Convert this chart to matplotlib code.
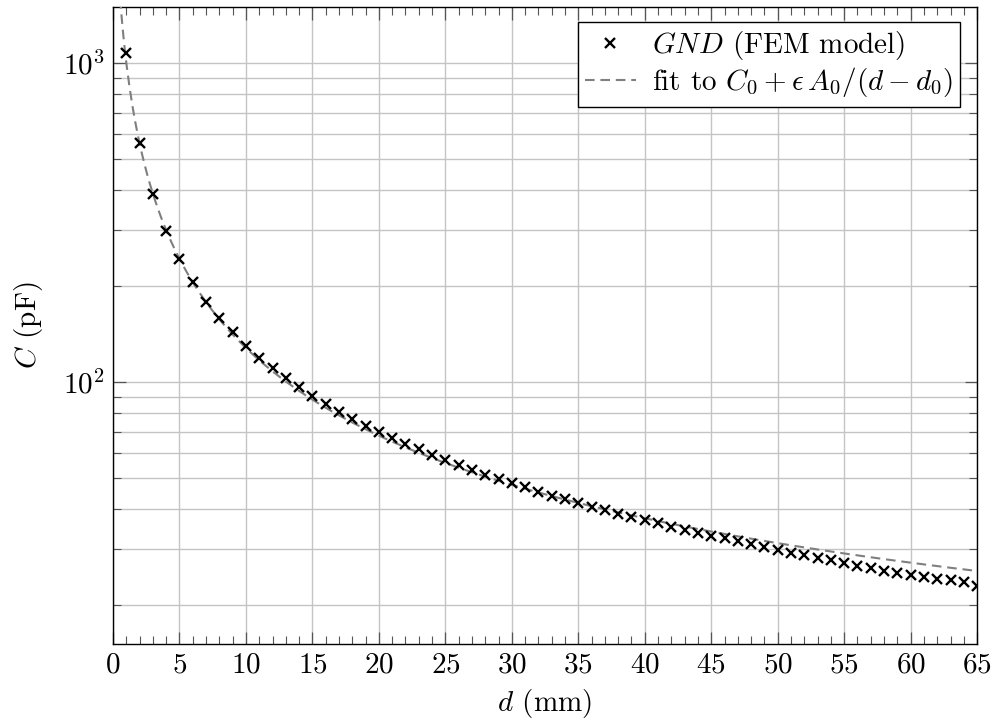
import matplotlib
matplotlib.use("Agg")
import matplotlib.pyplot as plt
import numpy as np
from matplotlib.ticker import LogLocator, MultipleLocator, NullFormatter

# Data ***************************************************************
d_mm = list(range(1, 66))
c_pf = [1075, 561, 388, 297, 243, 206, 178, 159, 143.6, 129.7,
        118.9, 110.6, 103, 96.4, 90.4, 85.3, 80.5, 76.6, 72.8, 69.7,
        66.7, 63.9, 61.7, 59.1, 56.9, 54.9, 53.0, 51.1, 49.6, 48.2,
        46.9, 45.2, 43.9, 43.0, 41.8, 40.6, 39.7, 38.6, 37.7, 36.9,
        36.1, 35.1, 34.3, 33.6, 32.9, 32.4, 31.8, 31.1, 30.4, 29.7,
        29.1, 28.7, 28.1, 27.7, 27.1, 26.5, 26.1, 25.6, 25.2, 24.8,
        24.5, 24.1, 23.9, 23.6, 22.9]

# fit parameters (C0 + eps*A0/(d - d0))
fit_c0 = 6.5
fit_k = 1245.0      # eps * A0
fit_d0 = -0.25

# Style ***************************************************************
plt.rcParams['font.family'] = 'serif'
plt.rcParams['font.serif'] = ['cmr10', 'DejaVu Serif']
plt.rcParams['mathtext.fontset'] = 'cm'
plt.rcParams['axes.formatter.use_mathtext'] = True

fs = 21

fig = plt.figure(figsize=(9.95, 7.25), dpi=100)
ax = fig.add_axes([0.1136, 0.1117, 0.8684, 0.8786])

d_fit = np.linspace(0.5, 65, 600)
c_fit = fit_c0 + fit_k / (d_fit - fit_d0)

ax.plot(d_fit, c_fit, color='#7f7f7f', lw=1.5, linestyle=(0, (4.6, 2.8)),
        label=r'fit to $C_0 + \epsilon\, A_0/(d - d_0)$', zorder=3)
ax.plot(d_mm, c_pf, linestyle='none', marker='x', color='black',
        markersize=6.5, mew=1.7, label=r'$GND$ (FEM model)', zorder=4)

ax.set_yscale('log')
ax.set_xlim(0, 65)
ax.set_ylim(15.1, 1500)

ax.xaxis.set_major_locator(MultipleLocator(5))
ax.xaxis.set_minor_locator(MultipleLocator(1))
ax.yaxis.set_major_locator(LogLocator(base=10))
ax.yaxis.set_minor_locator(LogLocator(base=10, subs=np.arange(2, 10)))
ax.yaxis.set_minor_formatter(NullFormatter())

ax.grid(True, which='major', color='#c4c4c4', lw=1.0)
ax.grid(True, which='minor', axis='y', color='#c4c4c4', lw=1.0)
ax.set_axisbelow(True)

ax.tick_params(which='both', direction='in', top=True, right=True,
               color='#555555', labelsize=fs)
ax.tick_params(which='major', length=9, width=0.9)
ax.tick_params(which='minor', length=6, width=0.8)
ax.tick_params(axis='x', pad=6)
ax.tick_params(axis='y', pad=6)
for s in ax.spines.values():
    s.set_linewidth(1.0)

ax.set_xlabel(r'$d$ (mm)', fontsize=fs, labelpad=6)
ax.set_ylabel(r'$C$ (pF)', fontsize=fs, labelpad=13)

h, l = ax.get_legend_handles_labels()
leg = ax.legend(h[::-1], l[::-1], loc='upper right', bbox_to_anchor=(0.9805, 0.977),
                fontsize=fs, frameon=True, fancybox=False, framealpha=1,
                edgecolor='black', handlelength=1.75, handletextpad=0.55,
                borderpad=0.25, labelspacing=0.12, borderaxespad=0)
leg.get_frame().set_linewidth(1.0)

fig.savefig('out.png', dpi=100)
